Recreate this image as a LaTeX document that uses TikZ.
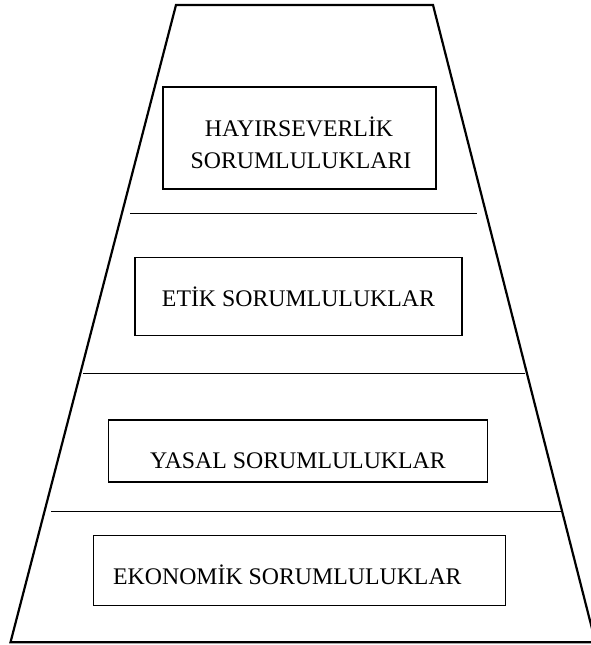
\documentclass[tikz,border=0pt]{standalone}
\usepackage{fontspec}
\setmainfont{Liberation Serif}
\begin{document}
\begin{tikzpicture}[x=1pt,y=-1pt,
  frame/.style={line width=2.2pt,line join=miter},
  box/.style={draw,line width=1.3pt,inner sep=0pt},
  sep/.style={line width=1pt},
  txt/.style={inner sep=0pt,font=\fontsize{23.8}{30}\selectfont}]
\useasboundingbox (0,0) rectangle (590,645);
% pyramid outline
\coordinate (tl) at (176,5);
\coordinate (tr) at (433,5);
\coordinate (br) at (595.5,642.3);
\coordinate (bl) at (10.5,642.3);
\draw[frame] (tl) -- (tr) -- (br) -- (bl) -- cycle;
% separators
\coordinate (s1a) at (130,213); \coordinate (s1b) at (477,213);
\coordinate (s2a) at (83,373.3);  \coordinate (s2b) at (525,373.3);
\coordinate (s3a) at (51,511.7);  \coordinate (s3b) at (562.7,511.7);
\draw[sep] (s1a) -- (s1b);
\draw[sep] (s2a) -- (s2b);
\draw[sep] (s3a) -- (s3b);
% boxes
\node[box,minimum width=273,minimum height=102] (b1) at (299.5,138) {};
\node[box,minimum width=327,minimum height=78.5] (b2) at (298.5,296.5) {};
\node[box,minimum width=379,minimum height=62] (b3) at (298.3,451) {};
\node[box,minimum width=412,minimum height=70.5] (b4) at (299.2,570.5) {};
% texts
\node[txt,anchor=base] (t1a) at (299,136) {HAYIRSEVERLİK};
\node[txt,anchor=base] (t1b) at (301,168) {SORUMLULUKLARI};
\node[txt,anchor=base] (t2) at (298.5,306) {ETİK SORUMLULUKLAR};
\node[txt,anchor=base] (t3) at (298,468.5) {YASAL SORUMLULUKLAR};
\node[txt,anchor=base west] (t4) at (113,584) {EKONOMİK SORUMLULUKLAR};
\end{tikzpicture}
\end{document}
